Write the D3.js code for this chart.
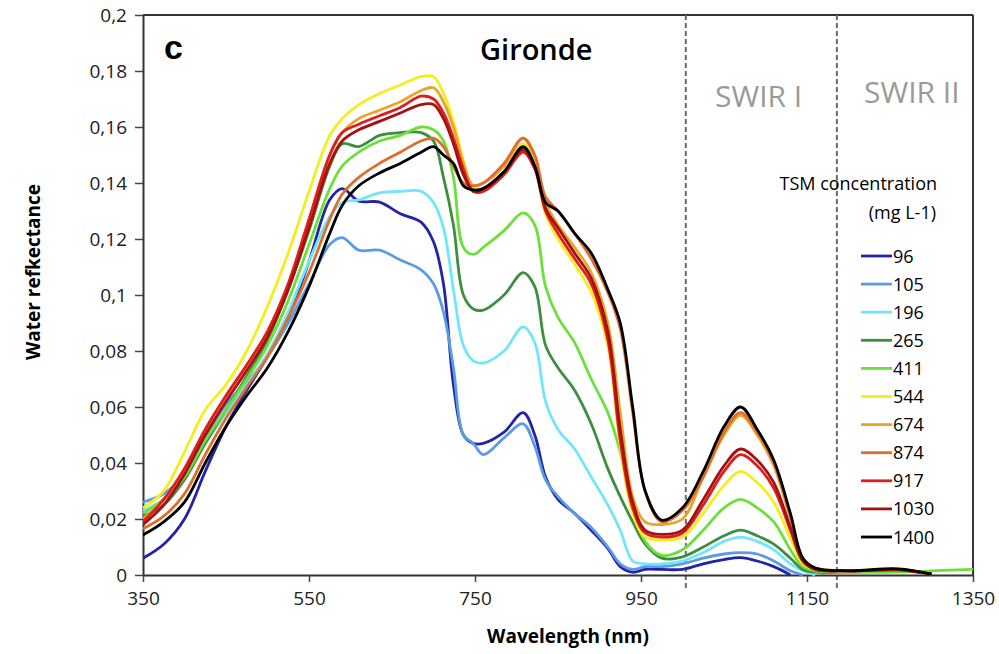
<!DOCTYPE html>
<html lang="en">
<head>
    <meta charset="UTF-8">
    <title>Gironde water reflectance</title>
    <script src="https://d3js.org/d3.v7.min.js"></script>
    <style>
        body { margin: 0; background: #fff; font-family: "Open Sans", sans-serif; }
        .tick text { font-family: "Open Sans", sans-serif; fill: #222; }
        .tick line { stroke: #444; stroke-width: 1.5; }
        .domain { stroke: #333; stroke-width: 2; }
    </style>
</head>
<body>
<svg id="chart"></svg>
<script>
    // wavelengths (nm) shared by every spectrum
    const wavelengths = [350, 375, 400, 425, 450, 475, 500, 525, 550, 575,
        590, 610, 635, 660, 685, 700, 712, 724, 736, 748,
        760, 785, 808, 822, 835, 850, 870, 890, 910, 925,
        940, 955, 975, 1000, 1025, 1050, 1070, 1090, 1110, 1130,
        1145, 1160, 1200, 1260, 1300, 1350];

    // TSM concentrations (mg L-1) and their colours
    const concentrations = ["96", "105", "196", "265", "411", "544", "674", "874", "917", "1030", "1400"];
    const colors = ["#2323a8", "#5a9be4", "#70e6fb", "#3f8e3f", "#6ce03a", "#f4ee1c",
        "#e8a52a", "#df6d2c", "#e21c1c", "#a31111", "#000000"];

    const r96 = [.006, .011, .020, .037, .053, .066, .078, .092, .112, .134,
        .138, .1335, .1332, .129, .126, .119, .104, .068, .050, .047,
        .047, .051, .058, .050, .035, .027, .022, .016, .0095, .003,
        .001, .002, .002, .002, .004, .0055, .0062, .005, .003, 0,
        null, null, null, null, null, null];
    const r105 = [.026, .029, .036, .049, .061, .069, .078, .090, .104, .118,
        .1205, .116, .116, .1125, .109, .104, .094, .074, .050, .047,
        .043, .049, .054, .046, .034, .028, .022, .017, .010, .004,
        .002, .003, .003, .004, .006, .0075, .008, .0075, .005, .0015,
        0, null, null, null, null, null];
    const r196 = [.023, .027, .035, .047, .058, .068, .079, .094, .112, .128,
        .133, .134, .1365, .137, .137, .133, .124, .102, .082, .0765,
        .0757, .080, .0886, .083, .062, .052, .045, .035, .025, .016,
        .005, .004, .004, .005, .008, .012, .0135, .012, .009, .004,
        .0015, 0, null, null, null, null];
    const r265 = [.021, .025, .034, .047, .059, .071, .084, .102, .123, .146,
        .154, .153, .157, .158, .158, .155, .142, .125, .100, .095,
        .0946, .100, .108, .103, .082, .074, .066, .054, .038, .028,
        .019, .011, .006, .0065, .010, .014, .016, .014, .011, .006,
        .002, .001, .001, .0015, .0005, null];
    const r411 = [.022, .027, .035, .048, .059, .070, .082, .098, .118, .138,
        .146, .151, .155, .157, .160, .159, .155, .142, .117, .1145,
        .117, .123, .1293, .125, .103, .092, .083, .070, .058, .044,
        .025, .012, .007, .009, .016, .024, .027, .024, .019, .009,
        .003, .0015, .001, .001, .0015, .002];
    const r544 = [.024, .030, .044, .059, .068, .080, .096, .115, .137, .157,
        .163, .168, .172, .175, .178, .178, .172, .162, .148, .138,
        .138, .144, .154, .147, .129, .120, .111, .101, .082, .046,
        .022, .0135, .0125, .0135, .022, .032, .037, .033, .026, .013,
        .004, .002, .0015, .0018, .0003, null];
    const r674 = [.020, .027, .038, .052, .064, .075, .087, .104, .127, .150,
        .158, .163, .166, .169, .173, .174, .169, .160, .147, .139,
        .140, .146, .156, .149, .133, .125, .117, .108, .090, .058,
        .028, .019, .018, .020, .035, .050, .057, .050, .039, .020,
        .005, .0025, .0015, .002, .0003, null];
    const r874 = [.0165, .021, .029, .043, .056, .067, .078, .092, .108, .127,
        .136, .142, .147, .151, .155, .156, .153, .146, .140, .139,
        .140, .147, .156, .150, .135, .130, .122, .113, .101, .088,
        .058, .030, .019, .023, .035, .051, .058, .051, .040, .021,
        .006, .0025, .0015, .002, .0003, null];
    const r917 = [.019, .027, .038, .052, .064, .075, .087, .104, .127, .150,
        .158, .161, .164, .167, .171, .170, .165, .156, .145, .137,
        .137, .143, .151, .145, .130, .122, .113, .104, .084, .048,
        .024, .015, .0135, .015, .025, .037, .043, .039, .031, .016,
        .005, .002, .0015, .0018, .0003, null];
    const r1030 = [.018, .025, .036, .050, .062, .073, .085, .102, .124, .147,
        .155, .159, .162, .165, .168, .168, .163, .154, .143, .137,
        .138, .144, .152, .146, .131, .124, .115, .106, .087, .052,
        .026, .016, .0145, .016, .027, .039, .045, .041, .033, .017,
        .005, .002, .0015, .0018, .0003, null];
    const r1400 = [.0143, .019, .026, .040, .053, .064, .074, .087, .103, .122,
        .132, .139, .1436, .147, .151, .153, .150, .147, .139, .1375,
        .138, .144, .153, .146, .133, .130, .122, .115, .102, .090,
        .060, .030, .0196, .024, .037, .053, .060, .052, .041, .022,
        .006, .0025, .0015, .0022, .0003, null];
    const reflectance = [r96, r105, r196, r265, r411, r544, r674, r874, r917, r1030, r1400];

    const xTicks = [350, 550, 750, 950, 1150, 1350];
    const yTicks = [0, 0.02, 0.04, 0.06, 0.08, 0.1, 0.12, 0.14, 0.16, 0.18, 0.2];
    const swirLimits = [1004, 1186];

    const W = 999, H = 654;
    const margin = { top: 15, right: 26, bottom: 79, left: 143 };
    const width = W - margin.left - margin.right;
    const height = H - margin.top - margin.bottom;

    const svg = d3.select("#chart").attr("width", W).attr("height", H);
    const g = svg.append("g").attr("transform", `translate(${margin.left},${margin.top})`);

    const x = d3.scaleLinear().domain([350, 1350]).range([0, width]);
    const y = d3.scaleLinear().domain([0, 0.2]).range([height, 0]);

    // frame: top and right
    g.append("line").attr("x1", 0).attr("x2", width).attr("y1", 0).attr("y2", 0)
        .attr("stroke", "#333").attr("stroke-width", 2);
    g.append("line").attr("x1", width).attr("x2", width).attr("y1", 0).attr("y2", height)
        .attr("stroke", "#333").attr("stroke-width", 2);

    // SWIR band limits
    g.selectAll(".swir").data(swirLimits).enter().append("line")
        .attr("class", "swir")
        .attr("x1", d => x(d)).attr("x2", d => x(d))
        .attr("y1", 0).attr("y2", height + 16)
        .attr("stroke", "#6a6a6a").attr("stroke-width", 2)
        .attr("stroke-dasharray", "5,3");

    g.append("g")
        .attr("transform", `translate(0,${height})`)
        .call(d3.axisBottom(x).tickValues(xTicks).tickSize(7).tickSizeOuter(0).tickPadding(10)
            .tickFormat(d3.format("d")))
        .selectAll("text").style("font-size", "19px");

    g.append("g")
        .call(d3.axisLeft(y).tickValues(yTicks).tickSize(8).tickSizeOuter(0).tickPadding(8)
            .tickFormat(d => String(+d.toFixed(2)).replace(".", ",")))
        .selectAll("text").style("font-size", "19px");

    const line = d3.line()
        .defined(d => d[1] !== null)
        .x(d => x(d[0]))
        .y(d => y(d[1]))
        .curve(d3.curveCatmullRom.alpha(0.5));

    g.append("defs").append("clipPath").attr("id", "plot")
        .append("rect").attr("width", width).attr("height", height + 2).attr("y", -1);

    g.append("g").attr("clip-path", "url(#plot)")
        .selectAll("path").data(reflectance).enter().append("path")
        .attr("d", vals => line(wavelengths.map((w, i) => [w, vals[i]])))
        .attr("fill", "none")
        .attr("stroke", (d, i) => colors[i])
        .attr("stroke-width", 2.8)
        .attr("stroke-linejoin", "round");

    // annotations
    g.append("text").attr("x", 21).attr("y", 44)
        .style("font-family", "Liberation Sans, Arial, sans-serif")
        .style("font-weight", "bold").style("font-size", "34px").text("c");
    g.append("text").attr("x", 337).attr("y", 45)
        .style("font-weight", 600).style("font-size", "29px").text("Gironde");
    g.append("text").attr("x", 572).attr("y", 92)
        .style("font-size", "30px").style("fill", "#9a9a9a").text("SWIR I");
    g.append("text").attr("x", 721).attr("y", 88)
        .style("font-size", "30px").style("fill", "#9a9a9a").text("SWIR II");

    // legend
    const lg = g.append("g");
    lg.append("text").attr("x", 794).attr("y", 175).attr("text-anchor", "end")
        .style("font-size", "18px").text("TSM concentration");
    lg.append("text").attr("x", 793).attr("y", 204).attr("text-anchor", "end")
        .style("font-size", "18px").text("(mg L-1)");
    const rows = lg.selectAll(".row").data(concentrations).enter().append("g")
        .attr("transform", (d, i) => `translate(718,${241 + i * 28.1})`);
    rows.append("line").attr("x1", 0).attr("x2", 31)
        .attr("stroke", (d, i) => colors[i]).attr("stroke-width", 2.8);
    rows.append("text").attr("x", 32).attr("y", 6.5)
        .style("font-size", "18px").text(d => d);

    // axis titles
    svg.append("text").attr("x", 568).attr("y", 643)
        .attr("text-anchor", "middle")
        .style("font-weight", "bold").style("font-size", "19px").text("Wavelength (nm)");
    svg.append("text")
        .attr("transform", `translate(40,272) rotate(-90)`)
        .attr("text-anchor", "middle")
        .style("font-weight", "bold").style("font-size", "19px").text("Water refkectance");
</script>
</body>
</html>
